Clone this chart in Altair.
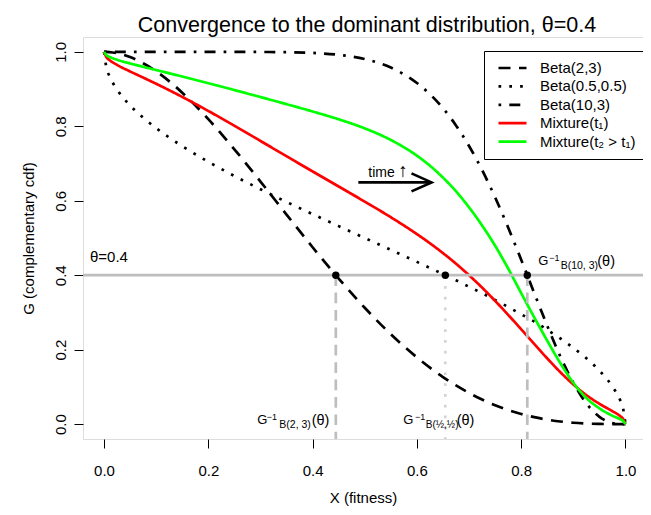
import altair as alt
import pandas as pd

FONT = "Liberation Sans"

# ---------------- data ----------------
x_grid = [0, 0.005, 0.01, 0.025, 0.05, 0.075, 0.1, 0.15, 0.2, 0.25, 0.3, 0.35, 0.4, 0.45,
          0.5, 0.55, 0.6, 0.625, 0.65, 0.675, 0.7, 0.725, 0.75, 0.775, 0.8, 0.825, 0.85,
          0.875, 0.9, 0.925, 0.95, 0.975, 0.99, 0.995, 1.0]

beta_2_3 = [1, 0.9999, 0.9994, 0.9964, 0.9860, 0.9695, 0.9477, 0.8905, 0.8192, 0.7383,
            0.6517, 0.5630, 0.4752, 0.3910, 0.3125, 0.2415, 0.1792, 0.1516, 0.1265, 0.1039,
            0.0837, 0.0660, 0.0508, 0.0379, 0.0272, 0.0186, 0.0120, 0.0071, 0.0037, 0.0016,
            0.0005, 0.0001, 0, 0, 0]

beta_05_05 = [1, 0.955, 0.9362, 0.8989, 0.8564, 0.8234, 0.7952, 0.7468, 0.7048, 0.6667,
              0.6310, 0.5969, 0.5641, 0.5319, 0.5, 0.4681, 0.4359, 0.4196, 0.4031, 0.3865,
              0.3690, 0.3519, 0.3333, 0.3146, 0.2952, 0.2756, 0.2532, 0.2301, 0.2048, 0.1769,
              0.1436, 0.1008, 0.0638, 0.045, 0]

beta_10_3 = [1, 1, 1, 1, 1, 1, 1, 1, 1, 1, 0.9998, 0.9992, 0.9972, 0.9921, 0.9807, 0.9579,
             0.9165, 0.8865, 0.8487, 0.8025, 0.7472, 0.6826, 0.6093, 0.5283, 0.4417, 0.3523,
             0.2642, 0.1820, 0.1109, 0.0555, 0.0196, 0.0029, 0.0002, 0, 0]

mix_t1 = [1, 0.985, 0.9785, 0.9651, 0.9475, 0.9310, 0.9143, 0.8791, 0.8413, 0.8017, 0.7608,
          0.7197, 0.6788, 0.6383, 0.5977, 0.5558, 0.5105, 0.4859, 0.4594, 0.4310, 0.4000,
          0.3668, 0.3311, 0.2936, 0.2547, 0.2155, 0.1765, 0.1397, 0.1065, 0.0780, 0.0546,
          0.0346, 0.0213, 0.015, 0]

mix_t2 = [1, 0.9908, 0.9869, 0.9789, 0.9689, 0.9600, 0.9513, 0.9338, 0.9159, 0.8975, 0.8787,
          0.8596, 0.8399, 0.8189, 0.7945, 0.7634, 0.7212, 0.6942, 0.6624, 0.6254, 0.5824,
          0.5337, 0.4793, 0.4180, 0.3520, 0.2870, 0.2240, 0.1640, 0.1110, 0.0700, 0.0424,
          0.0225, 0.0131, 0.0092, 0]

series_names = ["Beta(2,3)", "Beta(0.5,0.5)", "Beta(10,3)", "Mixture(t\u2081)",
                "Mixture(t\u2082 > t\u2081)"]
series_values = [beta_2_3, beta_05_05, beta_10_3, mix_t1, mix_t2]
series_colors = ["#000000", "#000000", "#000000", "#FF0000", "#00FF00"]
series_dash = [[12, 8.5], [2.7, 8.1], [2.7, 8.1, 11, 8.1], [1, 0], [1, 0]]

theta = 0.4
quantile_x = [0.4445, 0.6545, 0.8117]      # where each Beta curve meets theta
x_ticks = [0.0, 0.2, 0.4, 0.6, 0.8, 1.0]
y_ticks = [0.0, 0.2, 0.4, 0.6, 0.8, 1.0]

arrow_x = [0.4877, 0.628]
arrow_y = 0.6494

title_text = "Convergence to the dominant distribution, \u03b8=0.4"

# ---------------- layout ----------------
W, H = 560, 402
xscale = alt.Scale(domain=[-0.0403, 1.0336], nice=False, zero=False)
yscale = alt.Scale(domain=[-0.04, 1.04], nice=False, zero=False)


def xenc(field="x"):
    return alt.X(f"{field}:Q", scale=xscale,
                 axis=alt.Axis(values=x_ticks, format=".1f", title="X (fitness)",
                               grid=False, domain=False, tickSize=9, tickColor="black",
                               tickWidth=1, labelFontSize=15, labelColor="black",
                               labelPadding=15, labelFont=FONT, titleFont=FONT,
                               titleFontSize=15, titleFontWeight="normal",
                               titleColor="black", titleBaseline="alphabetic",
                               titleY=63))


def yenc(field="G"):
    return alt.Y(f"{field}:Q", scale=yscale,
                 axis=alt.Axis(values=y_ticks, format=".1f", title="G (complementary cdf)",
                               grid=False, domain=False, tickSize=9, tickColor="black",
                               tickWidth=1, labelFontSize=15, labelColor="black",
                               labelAngle=270, labelAlign="center",
                               labelBaseline="alphabetic", labelPadding=9,
                               labelFont=FONT, titleFont=FONT, titleFontSize=15,
                               titleFontWeight="normal", titleColor="black",
                               titleAngle=270, titleAlign="center",
                               titleBaseline="alphabetic", titleX=-50, titleY=H / 2))


rows = []
for name, vals in zip(series_names, series_values):
    for xv, gv in zip(x_grid, vals):
        rows.append({"x": xv, "G": gv, "series": name})
curves = pd.DataFrame(rows)

leg = alt.Legend(title=None, orient="none", legendX=401, legendY=14,
                 symbolType="stroke", symbolSize=784, symbolStrokeWidth=2.7,
                 symbolOffset=4, clipHeight=16, labelFontSize=15, labelFont=FONT,
                 labelColor="black", labelOffset=12, padding=9, rowPadding=2.4,
                 strokeColor="black", fillColor="white", labelLimit=300)

lines = alt.Chart(curves).mark_line(strokeWidth=2.7, strokeCap="butt",
                                    interpolate="monotone", clip=True).encode(
    x=xenc(), y=yenc(),
    color=alt.Color("series:N", scale=alt.Scale(domain=series_names, range=series_colors),
                    legend=leg),
    strokeDash=alt.StrokeDash("series:N",
                              scale=alt.Scale(domain=series_names, range=series_dash),
                              legend=leg),
)

hline = alt.Chart(pd.DataFrame({"G": [theta]})).mark_rule(
    color="#BEBEBE", strokeWidth=2.7).encode(y=yenc(), x=alt.value(0), x2=alt.value(W))

vstyles = [dict(color="#BEBEBE", strokeDash=[10.7, 6.7]),
           dict(color="#D3D3D3", strokeDash=[2.7, 8.1]),
           dict(color="#BEBEBE", strokeDash=[10.7, 6.7])]
vlines = []
for qx, st in zip(quantile_x, vstyles):
    vlines.append(alt.Chart(pd.DataFrame({"x": [qx], "G": [theta]})).mark_rule(
        strokeWidth=2.7, **st).encode(x=xenc(), y=yenc(), y2=alt.value(H)))

pts = alt.Chart(pd.DataFrame({"x": quantile_x, "G": [theta] * 3})).mark_circle(
    size=55, color="black", opacity=1).encode(x=xenc(), y=yenc())

theta_label = alt.Chart(pd.DataFrame({"x": [-0.027], "G": [theta], "t": ["\u03b8=0.4"]})).mark_text(
    align="left", baseline="alphabetic", dy=-13.5, fontSize=15, font=FONT, color="black").encode(
    x=xenc(), y=yenc(), text="t:N")

# G^-1 labels, each built from pieces (text, size, dx, dy)
label_anchor = [(quantile_x[0], 0.0), (quantile_x[1], 0.0), (quantile_x[2], theta)]
label_pieces = [
    [("G", 13, -78.5, 0), ("\u22121", 9, -69.1, -4), ("B(2, 3)", 10.5, -56.5, 4), ("(\u03b8)", 14.5, -24.1, 0.8)],
    [("G", 13, -42, 0), ("\u22121", 9, -30.3, -4), ("B(\u00bd,\u00bd)", 10, -19.6, 4), ("(\u03b8)", 14.5, 11.4, 0.8)],
    [("G", 13, 11, -10.2), ("\u22121", 9, 22, -14.2), ("B(10, 3)", 10.5, 33.4, -6.2), ("(\u03b8)", 14.5, 70, -9.4)],
]
glabels = []
for (ax, ay), pieces in zip(label_anchor, label_pieces):
    for txt, fs, dx, dy in pieces:
        glabels.append(alt.Chart(pd.DataFrame({"x": [ax], "G": [ay], "t": [txt]})).mark_text(
            align="left", baseline="alphabetic", dx=dx, dy=dy, fontSize=fs, font=FONT,
            color="black").encode(x=xenc(), y=yenc(), text="t:N"))

arrow_df = pd.DataFrame({"x": [arrow_x[0]], "x2": [arrow_x[1]], "G": [arrow_y]})
arrow_shaft = alt.Chart(arrow_df).mark_rule(color="black", strokeWidth=2.7).encode(
    x=xenc(), x2="x2:Q", y=yenc())
arrow_head = alt.Chart(pd.DataFrame({"x": [arrow_x[1]], "G": [arrow_y]})).mark_point(
    shape="M -1 -0.45 L 0 0 L -1 0.45", size=1600, filled=False, color="black",
    strokeWidth=2.7, opacity=1).encode(x=xenc(), y=yenc())
time_pieces = [("time", 14, 0), ("\u2191", 19, 30)]
time_labels = []
for txt, fs, dx in time_pieces:
    time_labels.append(alt.Chart(pd.DataFrame({"x": [0.5068], "G": [arrow_y], "t": [txt]})).mark_text(
        align="left", baseline="alphabetic", dx=dx, dy=-5, fontSize=fs, font=FONT,
        color="black").encode(x=xenc(), y=yenc(), text="t:N"))

title_mark = alt.Chart(pd.DataFrame({"t": [title_text]})).mark_text(
    align="center", baseline="alphabetic", fontSize=21.5, font=FONT, color="black").encode(
    x=alt.value(W / 2 + 4), y=alt.value(-5), text="t:N")

chart = alt.layer(lines, hline, *vlines, pts, theta_label, *glabels,
                  arrow_shaft, arrow_head, *time_labels, title_mark).properties(
    width=W, height=H,
    autosize=alt.AutoSizeParams(type="none"),
    padding={"left": 75, "top": 29, "right": 0, "bottom": 68},
).configure_view(stroke="black", strokeWidth=1).configure(background="white")

chart.save("out.html", embed_options={"renderer": "svg", "actions": False})
